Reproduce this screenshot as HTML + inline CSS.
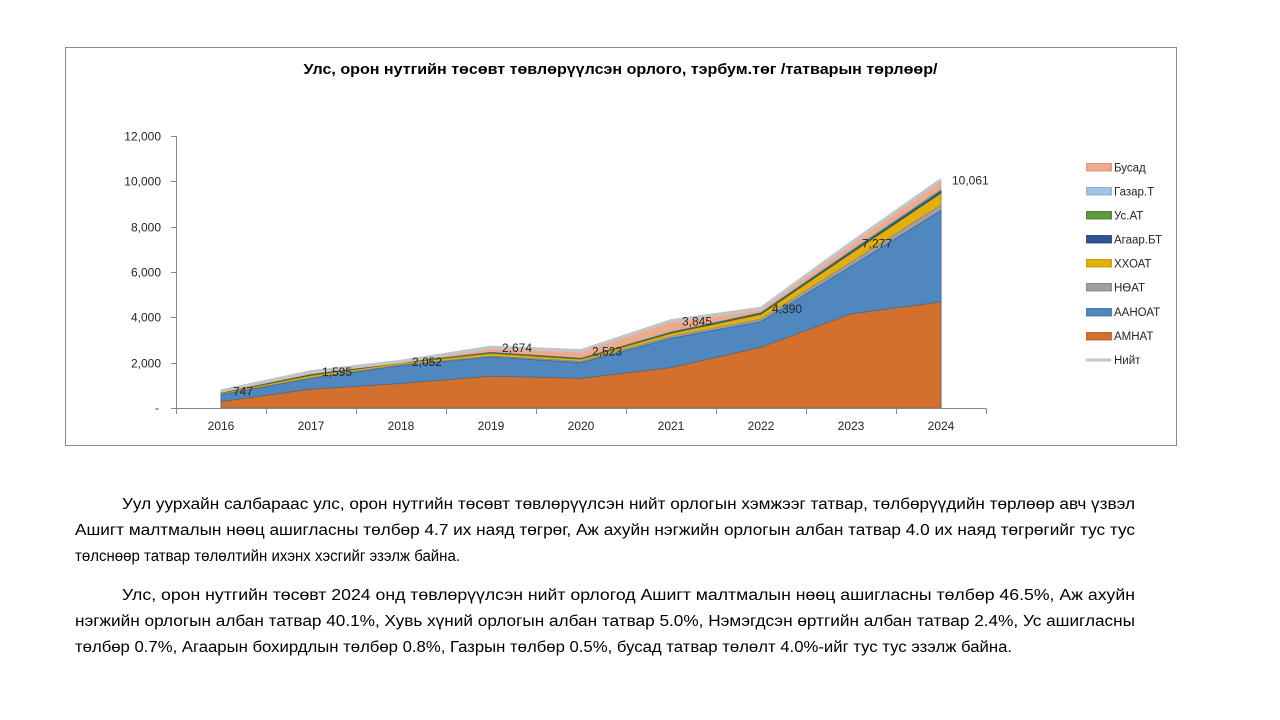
<!DOCTYPE html>
<html>
<head>
<meta charset="utf-8">
<style>
  html,body{margin:0;padding:0;background:#ffffff;}
  body{width:1280px;height:720px;overflow:hidden;}
  svg{display:block;}
  .ax{font-family:"Liberation Sans","DejaVu Sans",sans-serif;font-size:12px;fill:#262626;}
  .lg{font-family:"Liberation Sans","DejaVu Sans",sans-serif;font-size:11.5px;fill:#262626;}
  .tt{font-family:"Liberation Sans","DejaVu Sans",sans-serif;font-size:15px;font-weight:bold;fill:#000;}
  .pt{font-family:"Liberation Sans","DejaVu Sans",sans-serif;font-size:15.5px;fill:#000;}
</style>
</head>
<body>
<svg width="1280" height="720" viewBox="0 0 1280 720" xmlns="http://www.w3.org/2000/svg">
  <rect x="0" y="0" width="1280" height="720" fill="#ffffff"/>
  <!-- chart frame -->
  <rect x="65.5" y="47.5" width="1111" height="398" fill="#ffffff" stroke="#8a8a8a" stroke-width="1"/>

  <!-- title -->
  <text class="tt" x="620.5" y="74" text-anchor="middle" textLength="634" lengthAdjust="spacingAndGlyphs">Улс, орон нутгийн төсөвт төвлөрүүлсэн орлого, тэрбум.төг /татварын төрлөөр/</text>

  <!-- stacked areas (drawn top layer first, each filled to baseline) -->
  <!-- Бусад -->
  <polygon fill="#F1A98E" stroke="#d98f74" stroke-width="0.6" points="221,391.07 311,371.85 401,361.49 491,347.39 581,350.81 671,320.85 761,308.49 851,243.05 941,179.95 941,408 221,408"/>
  <!-- Газар.Т -->
  <polygon fill="#9DC3E6" stroke="#7fa6c9" stroke-width="0.6" points="221,392.54 311,374.34 401,362.55 491,352.13 581,358.02 671,331.5 761,312.35 851,250.47 941,189.13 941,408 221,408"/>
  <!-- Ус.АТ -->
  <polygon fill="#5E8F45" stroke="#3f6a2c" stroke-width="0.6" points="221,392.77 311,374.68 401,362.78 491,352.47 581,358.36 671,332.18 761,312.91 851,251.26 941,190.26 941,408 221,408"/>
  <!-- Агаар.БТ -->
  <polygon fill="#2F5597" stroke="#1f3d70" stroke-width="0.6" points="221,393.27 311,375.47 401,363.23 491,353.26 581,359.15 671,333.2 761,313.93 851,252.51 941,191.85 941,408 221,408"/>
  <!-- ХХОАТ -->
  <polygon fill="#E3AF0C" stroke="#b78c00" stroke-width="0.6" points="221,393.49 311,375.81 401,363.46 491,353.6 581,359.49 671,333.65 761,314.61 851,253.87 941,193.66 941,408 221,408"/>
  <!-- НӨАТ -->
  <polygon fill="#A0A0A0" stroke="#7f7f7f" stroke-width="0.6" points="221,394.4 311,377.63 401,364.82 491,355.87 581,361.31 671,336.37 761,319.15 851,262.25 941,205.07 941,408 221,408"/>
  <!-- ААНОАТ -->
  <polygon fill="#4F87BE" stroke="#3b6a99" stroke-width="0.8" points="221,394.97 311,378.53 401,365.61 491,357 581,362.67 671,338.3 761,321.64 851,266.33 941,210.53 941,408 221,408"/>
  <!-- АМНАТ -->
  <polygon fill="#D3702D" stroke="#5a6470" stroke-width="0.8" points="221,401.65 311,389.19 401,383.52 491,376.27 581,378.31 671,367.65 761,347.25 851,313.93 941,301.97 941,408 221,408"/>
  <!-- Нийт line -->
  <polyline fill="none" stroke="#C4C4C4" stroke-width="3.5" stroke-linejoin="round" points="221,391.07 311,371.85 401,361.49 491,347.39 581,350.81 671,320.85 761,308.49 851,243.05 941,179.95"/>

  <!-- axes -->
  <g stroke="#868686" stroke-width="1" fill="none">
    <line x1="176.5" y1="136" x2="176.5" y2="408.5"/>
    <line x1="171" y1="136.5" x2="176.5" y2="136.5"/>
    <line x1="171" y1="181.5" x2="176.5" y2="181.5"/>
    <line x1="171" y1="227.5" x2="176.5" y2="227.5"/>
    <line x1="171" y1="272.5" x2="176.5" y2="272.5"/>
    <line x1="171" y1="317.5" x2="176.5" y2="317.5"/>
    <line x1="171" y1="363.5" x2="176.5" y2="363.5"/>
    <line x1="171" y1="408.5" x2="986.5" y2="408.5"/>
    <line x1="176.5" y1="408.5" x2="176.5" y2="414"/>
    <line x1="266.5" y1="408.5" x2="266.5" y2="414"/>
    <line x1="356.5" y1="408.5" x2="356.5" y2="414"/>
    <line x1="446.5" y1="408.5" x2="446.5" y2="414"/>
    <line x1="536.5" y1="408.5" x2="536.5" y2="414"/>
    <line x1="626.5" y1="408.5" x2="626.5" y2="414"/>
    <line x1="716.5" y1="408.5" x2="716.5" y2="414"/>
    <line x1="806.5" y1="408.5" x2="806.5" y2="414"/>
    <line x1="896.5" y1="408.5" x2="896.5" y2="414"/>
    <line x1="986.5" y1="408.5" x2="986.5" y2="414"/>
  </g>

  <!-- y labels -->
  <g class="ax" text-anchor="end">
    <text x="161" y="140.5">12,000</text>
    <text x="161" y="185.5">10,000</text>
    <text x="161" y="231.5">8,000</text>
    <text x="161" y="276.5">6,000</text>
    <text x="161" y="321.5">4,000</text>
    <text x="161" y="367.5">2,000</text>
    <text x="159" y="412">-</text>
  </g>

  <!-- x labels -->
  <g class="ax" text-anchor="middle">
    <text x="221" y="430">2016</text>
    <text x="311" y="430">2017</text>
    <text x="401" y="430">2018</text>
    <text x="491" y="430">2019</text>
    <text x="581" y="430">2020</text>
    <text x="671" y="430">2021</text>
    <text x="761" y="430">2022</text>
    <text x="851" y="430">2023</text>
    <text x="941" y="430">2024</text>
  </g>

  <!-- data labels -->
  <g class="ax">
    <text x="233" y="395.5">747</text>
    <text x="322" y="376">1,595</text>
    <text x="412" y="366">2,052</text>
    <text x="502" y="352">2,674</text>
    <text x="592" y="355.5">2,523</text>
    <text x="682" y="325.5">3,845</text>
    <text x="772" y="313">4,390</text>
    <text x="862" y="247.5">7,277</text>
    <text x="952" y="184.5">10,061</text>
  </g>

  <!-- legend -->
  <g stroke-width="0.8">
    <rect x="1086.5" y="163.5" width="25" height="7.5" fill="#F1A98E" stroke="#d08a70"/>
    <rect x="1086.5" y="187.5" width="25" height="7.5" fill="#9DC3E6" stroke="#7fa3c6"/>
    <rect x="1086.5" y="211.5" width="25" height="7.5" fill="#5E9B3B" stroke="#3f6a2c"/>
    <rect x="1086.5" y="235.5" width="25" height="7.5" fill="#2F5597" stroke="#1f3d70"/>
    <rect x="1086.5" y="259.5" width="25" height="7.5" fill="#E3AF0C" stroke="#b78c00"/>
    <rect x="1086.5" y="283.5" width="25" height="7.5" fill="#A0A0A0" stroke="#7a7a7a"/>
    <rect x="1086.5" y="308.5" width="25" height="7.5" fill="#4F87BE" stroke="#3b6a99"/>
    <rect x="1086.5" y="332.5" width="25" height="7.5" fill="#D3702D" stroke="#a9551c"/>
    <line x1="1086" y1="360" x2="1111" y2="360" stroke="#C4C4C4" stroke-width="3"/>
  </g>
  <g class="lg">
    <text x="1114" y="171.5">Бусад</text>
    <text x="1114" y="195.5">Газар.Т</text>
    <text x="1114" y="219.5">Ус.АТ</text>
    <text x="1114" y="243.5">Агаар.БТ</text>
    <text x="1114" y="267.5">ХХОАТ</text>
    <text x="1114" y="291.5">НӨАТ</text>
    <text x="1114" y="316">ААНОАТ</text>
    <text x="1114" y="340">АМНАТ</text>
    <text x="1114" y="364">Нийт</text>
  </g>

  <!-- paragraphs -->
  <g class="pt">
    <text x="122" y="509" textLength="1013" lengthAdjust="spacingAndGlyphs">Уул уурхайн салбараас улс, орон нутгийн төсөвт төвлөрүүлсэн нийт орлогын хэмжээг татвар, төлбөрүүдийн төрлөөр авч үзвэл</text>
    <text x="75" y="535" textLength="1060" lengthAdjust="spacingAndGlyphs">Ашигт малтмалын нөөц ашигласны төлбөр 4.7 их наяд төгрөг, Аж ахуйн нэгжийн орлогын албан татвар 4.0 их наяд төгрөгийг тус тус</text>
    <text x="75" y="561" textLength="385" lengthAdjust="spacingAndGlyphs">төлснөөр татвар төлөлтийн ихэнх хэсгийг эзэлж байна.</text>
    <text x="122" y="600" textLength="1013" lengthAdjust="spacingAndGlyphs">Улс, орон нутгийн төсөвт 2024 онд төвлөрүүлсэн нийт орлогод Ашигт малтмалын нөөц ашигласны төлбөр 46.5%, Аж ахуйн</text>
    <text x="75" y="626" textLength="1060" lengthAdjust="spacingAndGlyphs">нэгжийн орлогын албан татвар 40.1%, Хувь хүний орлогын албан татвар 5.0%, Нэмэгдсэн өртгийн албан татвар 2.4%, Ус ашигласны</text>
    <text x="75" y="652" textLength="937" lengthAdjust="spacingAndGlyphs">төлбөр 0.7%, Агаарын бохирдлын төлбөр 0.8%, Газрын төлбөр 0.5%, бусад татвар төлөлт 4.0%-ийг тус тус эзэлж байна.</text>
  </g>
</svg>
</body>
</html>
